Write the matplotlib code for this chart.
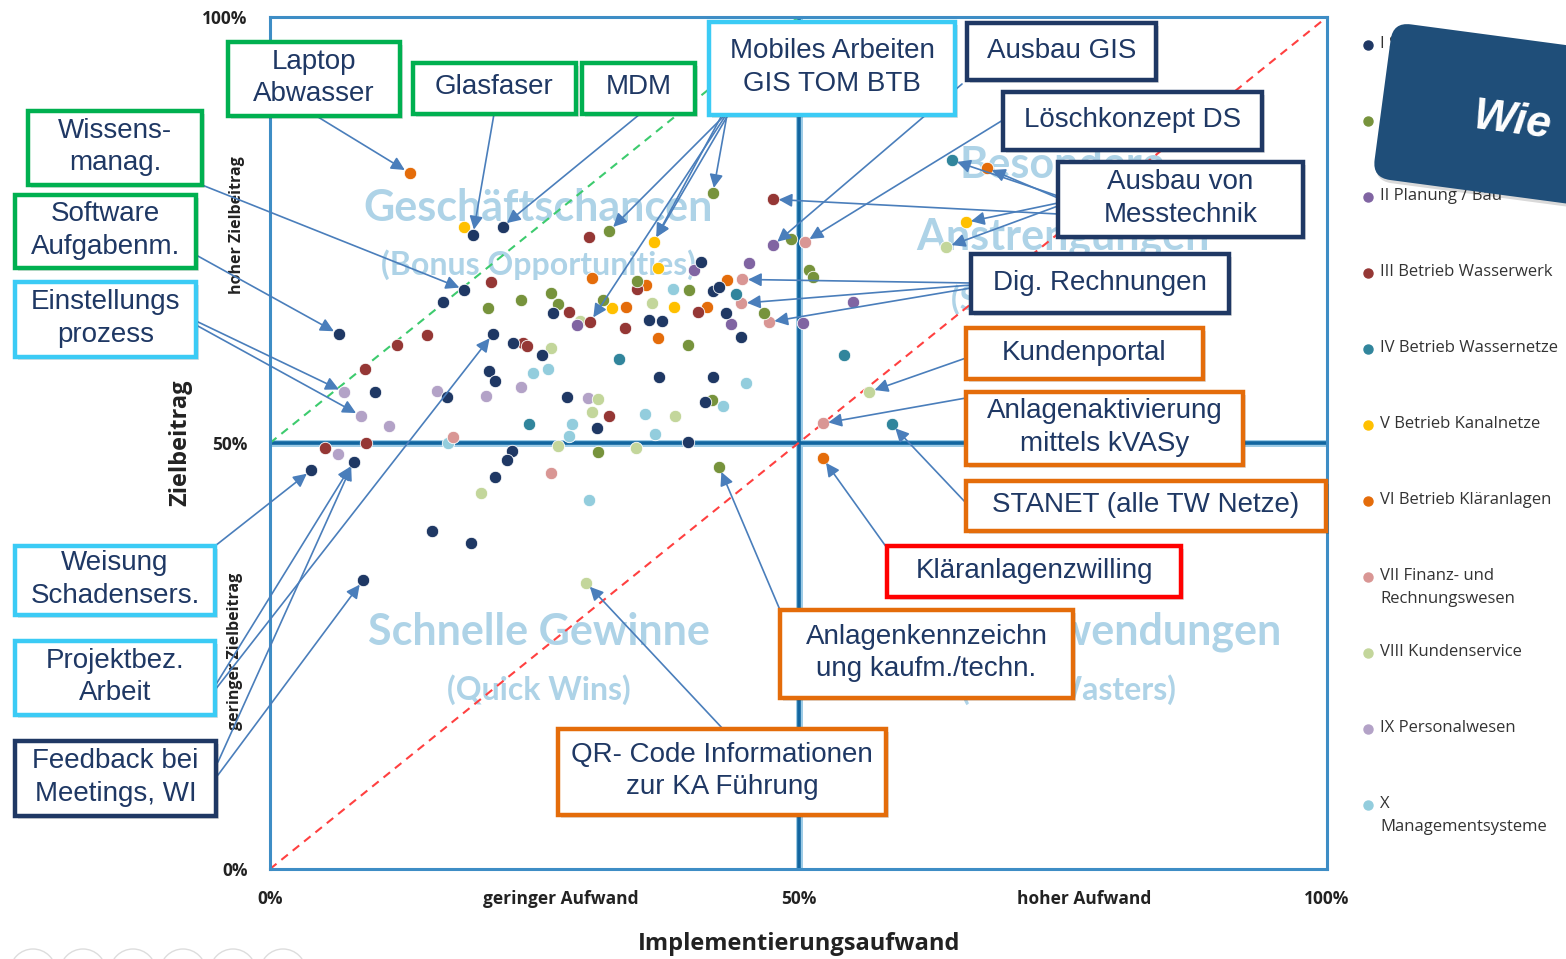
import matplotlib
matplotlib.use("Agg")
import matplotlib.pyplot as plt
import matplotlib.transforms as mtransforms
from matplotlib.patches import Rectangle, FancyBboxPatch, Circle, ConnectionPatch
from matplotlib.lines import Line2D

W, H = 1566, 959

# ---------------- data ----------------
categories = ["I", "Ib", "II", "III", "IV", "V", "VI", "VII", "VIII", "IX", "X"]
legend_labels = ["I Stabsstellen", "Ib Technik", "II Planung / Bau", "III Betrieb Wasserwerk",
                 "IV Betrieb Wassernetze", "V Betrieb Kanalnetze", "VI Betrieb Kläranlagen",
                 "VII Finanz- und\nRechnungswesen", "VIII Kundenservice", "IX Personalwesen",
                 "X\nManagementsysteme"]
colors = ["#1F3864", "#77933C", "#8064A2", "#953735", "#31859C", "#FFC000",
          "#E46C0A", "#D99694", "#C3D69B", "#B3A2C7", "#93CDDD"]

I_x = [19.2, 22.0, 18.4, 6.5, 3.9, 7.9, 21.1, 8.8, 16.4, 26.8, 40.8, 41.9, 42.5, 43.1, 35.9, 37.1,
       44.6, 25.7, 36.8, 41.9, 28.1, 41.2, 30.9, 39.5, 9.9, 16.7, 23.0, 20.7, 21.3, 22.9, 22.4, 21.3,
       15.3, 19.0]
I_y = [74.4, 75.4, 68.0, 62.8, 46.8, 47.8, 62.8, 33.9, 66.5, 65.3, 71.2, 67.8, 68.3, 65.3, 64.4, 64.3,
       62.4, 60.3, 57.7, 57.7, 55.4, 54.8, 51.8, 50.1, 56.0, 55.4, 61.7, 58.5, 57.3, 49.1, 48.0, 46.0,
       39.7, 38.3]
Ib_x = [41.9, 32.1, 42.5, 20.6, 23.7, 26.6, 27.2, 49.3, 51.0, 51.4, 31.5, 34.7, 39.6, 46.7, 39.5, 41.8, 31.0]
Ib_y = [79.3, 74.9, 47.2, 65.8, 66.8, 67.6, 66.3, 73.9, 70.3, 69.5, 66.8, 69.0, 68.0, 65.3, 61.5, 55.0, 48.9]
II_x = [47.6, 40.1, 45.3, 29.0, 43.6, 50.4, 55.2]
II_y = [73.2, 70.3, 71.1, 63.8, 64.0, 64.1, 66.5]
III_x = [47.6, 30.3, 20.9, 30.2, 28.3, 33.6, 34.7, 40.5, 32.1, 14.9, 12.0, 9.0, 9.1, 5.2, 23.9, 24.3]
III_y = [78.6, 64.2, 68.9, 74.2, 65.4, 63.5, 68.1, 65.4, 53.2, 62.7, 61.5, 58.7, 50.0, 49.4, 61.7, 61.4]
IV_x = [64.5, 58.8, 44.1, 33.0, 24.5, 54.3]
IV_y = [83.2, 52.2, 67.5, 59.9, 52.2, 60.3]
V_x = [65.8, 36.3, 18.4, 36.7, 32.4, 38.2]
V_y = [75.9, 73.6, 75.4, 70.5, 65.8, 66.0]
VI_x = [13.2, 67.8, 52.3, 30.5, 43.2, 33.7, 35.6, 41.3, 36.7]
VI_y = [81.7, 82.3, 48.2, 69.4, 69.1, 66.0, 68.5, 66.0, 62.3]
VII_x = [50.6, 44.7, 44.6, 47.2, 52.3, 26.6, 17.3]
VII_y = [73.6, 69.2, 66.4, 64.2, 52.3, 46.5, 50.7]
VIII_x = [64.0, 56.7, 29.9, 29.3, 36.1, 26.6, 31.0, 30.5, 38.3, 27.2, 34.6, 20.0]
VIII_y = [73.0, 56.0, 33.6, 64.3, 66.4, 61.2, 55.2, 53.6, 53.2, 49.6, 49.4, 44.1]
IX_x = [7.0, 8.6, 30.1, 15.8, 11.3, 6.4, 23.7, 20.4]
IX_y = [56.0, 53.2, 55.3, 56.1, 52.0, 48.7, 56.6, 55.5]
X_x = [38.1, 26.3, 45.0, 35.5, 42.9, 28.6, 28.3, 36.4, 30.2, 16.8, 24.9]
X_y = [68.1, 58.7, 57.0, 53.4, 54.3, 52.2, 50.8, 51.1, 43.3, 50.0, 58.2]

series = {"I": (I_x, I_y), "Ib": (Ib_x, Ib_y), "II": (II_x, II_y), "III": (III_x, III_y),
          "IV": (IV_x, IV_y), "V": (V_x, V_y), "VI": (VI_x, VI_y), "VII": (VII_x, VII_y),
          "VIII": (VIII_x, VIII_y), "IX": (IX_x, IX_y), "X": (X_x, X_y)}

x_tick_pos = [0, 27.5, 50, 77, 100]
x_tick_labels = ["0%", "geringer Aufwand", "50%", "hoher Aufwand", "100%"]
y_tick_pos = [0, 50, 100]
y_tick_labels = ["0%", "50%", "100%"]

# callout boxes: text, border colour, box (x0, y0, x1, y1) in image px, arrows [(start px, (series, index))]
callouts = [
    ("Laptop\nAbwasser", "#00B050", (228, 42, 400, 116), [((318, 117), ("VI", 0))]),
    ("Glasfaser", "#00B050", (413, 63, 576, 114), [((494, 114), ("I", 0))]),
    ("MDM", "#00B050", (582, 63, 695, 114), [((640, 114), ("I", 1))]),
    ("Mobiles Arbeiten\nGIS TOM BTB", "#3BCBF5", (709, 22, 955, 115),
     [((727, 115), ("Ib", 0)), ((725, 115), ("Ib", 1)), ((728, 115), ("V", 1)),
      ((722, 115), ("V", 1)), ((726, 115), ("III", 1))]),
    ("Ausbau GIS", "#1F3864", (967, 23, 1156, 80), [((962, 84), ("II", 0))]),
    ("Löschkonzept DS", "#1F3864", (1003, 92, 1262, 150), [((1003, 120), ("VII", 0))]),
    ("Ausbau von\nMesstechnik", "#1F3864", (1058, 162, 1303, 237),
     [((1058, 214), ("III", 0)), ((1058, 196), ("IV", 0)), ((1058, 198), ("VI", 1)),
      ((1058, 203), ("V", 0)), ((1058, 206), ("VIII", 0))]),
    ("Dig. Rechnungen", "#1F3864", (971, 254, 1229, 313),
     [((971, 283), ("VII", 1)), ((971, 285), ("VII", 2)), ((971, 288), ("VII", 3))]),
    ("Kundenportal", "#E46C0A", (966, 328, 1203, 379), [((966, 358), ("VIII", 1))]),
    ("Anlagenaktivierung\nmittels kVASy", "#E46C0A", (966, 392, 1243, 465), [((966, 398), ("VII", 4))]),
    ("STANET (alle TW Netze)", "#E46C0A", (966, 481, 1326, 531), [((966, 503), ("IV", 1))]),
    ("Kläranlagenzwilling", "#FF0000", (887, 546, 1181, 597), [((887, 548), ("VI", 2))]),
    ("Anlagenkennzeichn\nung kaufm./techn.", "#E46C0A", (780, 610, 1073, 698), [((780, 610), ("Ib", 2))]),
    ("QR- Code Informationen\nzur KA Führung", "#E46C0A", (558, 729, 886, 815), [((723, 729), ("VIII", 2))]),
    ("Wissens-\nmanag.", "#00B050", (28, 111, 202, 185), [((202, 185), ("I", 2))]),
    ("Software\nAufgabenm.", "#00B050", (15, 195, 196, 268), [((196, 255), ("I", 3))]),
    ("Einstellungs\nprozess", "#3BCBF5", (15, 282, 196, 357), [((196, 321), ("IX", 0)), ((196, 325), ("IX", 1))]),
    ("Weisung\nSchadensers.", "#3BCBF5", (15, 546, 215, 615), [((215, 546), ("I", 4))]),
    ("Projektbez.\nArbeit", "#3BCBF5", (15, 641, 215, 715), [((215, 686), ("I", 5)), ((215, 690), ("I", 6))]),
    ("Feedback bei\nMeetings, WI", "#1F3864", (15, 741, 216, 816), [((218, 775), ("I", 7)), ((218, 762), ("I", 5))]),
]

quadrant_texts = [
    (25.4, 77.6, "Geschäftschancen", 31), (25.4, 70.9, "(Bonus Opportunities)", 23),
    (75.0, 82.6, "Besondere", 31), (75.0, 74.2, "Anstrengungen", 31), (75.0, 66.8, "(Special Efforts)", 23),
    (25.4, 27.8, "Schnelle Gewinne", 31), (25.4, 21.0, "(Quick Wins)", 23),
    (75.5, 27.8, "Zeitverschwendungen", 31), (75.5, 21.0, "(Time Wasters)", 23),
]

legend_y = [45, 121, 197, 273, 349, 425, 501, 577, 653, 729, 805]

# ---------------- figure ----------------
fig = plt.figure(figsize=(W / 100, H / 100), dpi=100)
fig.patch.set_facecolor("white")
pix = mtransforms.Affine2D().scale(1 / 100) + fig.dpi_scale_trans


def P(x, y):
    return (x, H - y)


ax = fig.add_axes([270 / W, 1 - 869 / H, 1057 / W, 852 / H])
ax.set_xlim(0, 100)
ax.set_ylim(0, 100)
for s in ax.spines.values():
    s.set_color("#3E8DC5")
    s.set_linewidth(2.2)

# quadrant captions
for qx, qy, qt, fs in quadrant_texts:
    ax.text(qx, qy, qt, ha="center", va="center", fontsize=fs, color="#AED3E7",
            family="Lato", fontweight="bold", zorder=1)

# reference lines
ax.axhline(50, color="#9CCBE6", lw=5, zorder=2)
ax.axvline(50, color="#9CCBE6", lw=5, zorder=2)
ax.axhline(50, color="#1266A0", lw=2.6, zorder=2)
ax.axvline(50, color="#1266A0", lw=2.6, zorder=2)
ax.plot([0, 50], [50, 100], ls=(0, (4, 3)), color="#3DCB6E", lw=1.5, zorder=2)
ax.plot([0, 100], [0, 100], ls=(0, (4, 3)), color="#FF4040", lw=1.5, zorder=2)

# points
for cat, col in zip(categories[::-1], colors[::-1]):
    xs, ys = series[cat]
    ax.scatter(xs, ys, s=80, color=col, edgecolors="white", linewidths=0.6, zorder=3)

# ticks
ax.set_xticks(x_tick_pos)
ax.set_xticklabels(x_tick_labels)
ax.set_yticks(y_tick_pos)
ax.set_yticklabels(y_tick_labels)
ax.tick_params(length=0, labelsize=12.5)
ax.tick_params(axis="x", pad=15)
ax.tick_params(axis="y", pad=16)
for lab in ax.get_xticklabels() + ax.get_yticklabels():
    lab.set_fontweight("bold")
    lab.set_family("Open Sans")
    lab.set_color("#222222")

blend = mtransforms.blended_transform_factory(ax.transAxes, ax.transData)
ax.text(-0.031, 75.6, "hoher Zielbeitrag", transform=blend, rotation=90, ha="center", va="center",
        fontsize=11.5, fontweight="bold", family="Open Sans", color="#222222")
ax.text(-0.033, 25.5, "geringer Zielbeitrag", transform=blend, rotation=90, ha="center", va="center",
        fontsize=11.5, fontweight="bold", family="Open Sans", color="#222222")

ax.set_xlabel("Implementierungsaufwand", fontsize=17, fontweight="bold", family="Open Sans", color="#222222")
ax.set_ylabel("Zielbeitrag", fontsize=17, fontweight="bold", family="Open Sans", color="#222222")
ax.xaxis.set_label_coords(0.501, -0.088)
ax.yaxis.set_label_coords(-0.085, 0.5)
ax.xaxis.label.set_va("center")
ax.yaxis.label.set_va("center")

# callouts: arrows, boxes, texts
for text, ec, (x0, y0, x1, y1), arrows in callouts:
    for (sx, sy), (cat, idx) in arrows:
        xs, ys = series[cat]
        cp = ConnectionPatch(xyA=P(sx, sy), coordsA=pix, xyB=(xs[idx], ys[idx]), coordsB=ax.transData,
                             arrowstyle="-|>", mutation_scale=20, color="#4A7EBB", lw=1.2,
                             shrinkA=0, shrinkB=4, zorder=5)
        fig.add_artist(cp)
    shadow = Rectangle((x0 + 3, H - y1 - 3), x1 - x0, y1 - y0, transform=pix, fc="#000000",
                       alpha=0.12, ec="none", zorder=5.5)
    fig.add_artist(shadow)
    box = Rectangle((x0, H - y1), x1 - x0, y1 - y0, transform=pix, fc="white", ec=ec, lw=3.2, zorder=6)
    fig.add_artist(box)
    fig.text((x0 + x1) / 2, H - (y0 + y1) / 2 + 1, text, transform=pix, ha="center", va="center",
             fontsize=20, color="#1F3864", family="Liberation Sans", linespacing=1.32, zorder=7)

# legend
for lab, col, ly in zip(legend_labels, colors, legend_y):
    fig.add_artist(Line2D([1368], [H - ly], transform=pix, marker="o", ms=6.5, color=col,
                          ls="none", zorder=8))
    fig.text(1380, H - ly + 9, lab, transform=pix, ha="left", va="top", fontsize=12,
             family="Open Sans", color="#333333", linespacing=1.55, zorder=8)

# dark blue rotated badge
rot = mtransforms.Affine2D().rotate_deg_around(1393, 937, -7.6)
badge_shadow = FancyBboxPatch((1395, 777), 330, 157, boxstyle="round,pad=0,rounding_size=18",
                              transform=rot + pix, fc="#000000", alpha=0.15, ec="none", zorder=9)
fig.add_artist(badge_shadow)
badge = FancyBboxPatch((1393, 780), 330, 157, boxstyle="round,pad=0,rounding_size=18",
                       transform=rot + pix, fc="#1F4E79", ec="none", zorder=10)
fig.add_artist(badge)
fig.text(1512, H - 122, "Wie", transform=pix, rotation=-7.6, ha="center", va="center",
         fontsize=32, fontweight="bold", fontstyle="italic", color="white",
         family="Liberation Sans", zorder=11)

# faint icons at bottom-left
for cx in [33, 83, 133, 183, 233, 283]:
    fig.add_artist(Circle(P(cx, 972), 23, transform=pix, fc="none", ec="#DDDDDD", lw=1.0, zorder=1))

fig.savefig("out.png", dpi=100)
